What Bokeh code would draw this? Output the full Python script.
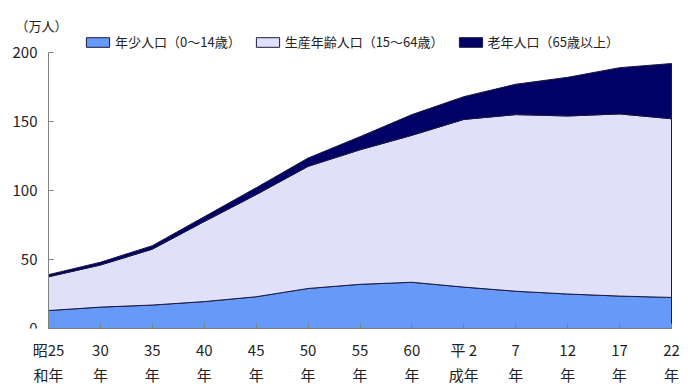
import numpy as np
from bokeh.plotting import figure
from bokeh.models import Legend, LegendItem, FixedTicker, Label
from bokeh.embed import file_html
from bokeh.resources import INLINE

tick_labels = ["昭25\n和年", "30\n年", "35\n年", "40\n年", "45\n年", "50\n年", "55\n年",
               "60\n年", "平 2\n成年", "7\n年", "12\n年", "17\n年", "22\n年"]
young = [13, 15.5, 17, 19.5, 23, 29, 32, 33.5, 30, 27, 25, 23.5, 22.5]
working = [24.5, 30.5, 40.5, 58, 74, 88.5, 97.5, 106.5, 121.5, 128, 129, 132, 129.5]
elderly = [1.5, 2, 2.5, 3.5, 5, 6, 9.5, 15, 16.5, 22, 28, 33.5, 40]
series_names = ["年少人口（0～14歳）", "生産年齢人口（15～64歳）", "老年人口（65歳以上）"]
colors = ["#6699F8", "#E0E0F8", "#000066"]
y_ticks = [0, 50, 100, 150, 200]

FONT = "Noto Sans CJK JP"

n = len(tick_labels)
x = list(range(n))
# frame spans the whole canvas width; y axis is pinned at the first category
PX_PER_CAT = 623 / (n - 1)
PX_PER_UNIT = 276 / 200
p = figure(width=688, height=387, output_backend="svg", toolbar_location=None,
           x_range=(-48 / PX_PER_CAT, (n - 1) + 17 / PX_PER_CAT),
           y_range=(0, 328 / PX_PER_UNIT),
           min_border_left=0, min_border_right=0, min_border_top=0, min_border_bottom=59)

bottom = np.zeros(n)
renderers = []
for vals, col in zip([young, working, elderly], colors):
    top = bottom + np.array(vals, dtype=float)
    xs = x + x[::-1]
    ys = list(top) + list(bottom[::-1])
    r = p.patch(xs, ys, fill_color=col, line_color="#1a1a40", line_width=1)
    renderers.append(r)
    bottom = top

p.xgrid.visible = False
p.ygrid.visible = False
p.outline_line_color = None

p.xaxis.ticker = FixedTicker(ticks=x)
p.xaxis.major_label_overrides = {i: t for i, t in enumerate(tick_labels)}
p.xaxis.bounds = (0, n - 1)
p.yaxis.ticker = FixedTicker(ticks=y_ticks)
p.yaxis.bounds = (y_ticks[0], y_ticks[-1])
p.yaxis.fixed_location = 0
for ax in (p.xaxis, p.yaxis):
    ax.axis_line_color = "#808080"
    ax.major_tick_line_color = "#808080"
    ax.major_tick_in = 5
    ax.major_tick_out = 0
    ax.minor_tick_line_color = None
    ax.major_label_text_font = FONT
    ax.major_label_text_font_size = "15px"
    ax.major_label_text_color = "#222222"
p.xaxis.major_label_standoff = 10
p.yaxis.major_label_standoff = 11

legend = Legend(items=[LegendItem(label=s, renderers=[r]) for s, r in zip(series_names, renderers)],
                orientation="horizontal", location=(83, 277),
                label_text_font=FONT, label_text_font_size="13px", label_text_color="#222222",
                glyph_width=29, glyph_height=12, spacing=12, label_standoff=3,
                background_fill_alpha=0, border_line_color=None, padding=2, margin=0)
p.add_layout(legend, "center")

p.add_layout(Label(x=-7 / PX_PER_CAT, y=303 / PX_PER_UNIT, text="（万人）", text_font=FONT,
                   text_font_size="13px", text_color="#222222",
                   text_align="center", text_baseline="middle"))

open("out.html", "w").write(file_html(p, INLINE))
